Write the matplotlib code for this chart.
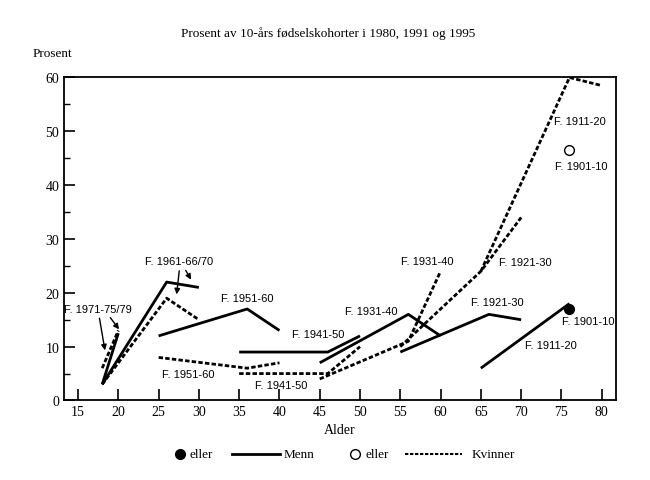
import matplotlib.pyplot as plt
from matplotlib.lines import Line2D

serif = ['Liberation Serif', 'DejaVu Serif']
narrow = ['Liberation Sans Narrow', 'Liberation Sans', 'DejaVu Sans']

# cohort series: (ages, percent) for men (solid) and women (dashed)
men = {
    'F. 1971-75/79': ([18, 20], [3, 12.5]),
    'F. 1961-66/70': ([18, 26, 30], [3, 22, 21]),
    'F. 1951-60': ([25, 36, 40], [12, 17, 13]),
    'F. 1941-50': ([35, 46, 50], [9, 9, 12]),
    'F. 1931-40': ([45, 56, 60], [7, 16, 12]),
    'F. 1921-30': ([55, 66, 70], [9, 16, 15]),
    'F. 1911-20': ([65, 76], [6, 18]),
}
women = {
    'F. 1971-75/79': ([18, 20], [6, 13]),
    'F. 1961-66/70': ([18, 26, 30], [3, 19, 15]),
    'F. 1951-60': ([25, 36, 40], [8, 6, 7]),
    'F. 1941-50': ([35, 46, 50], [5, 5, 10]),
    'F. 1931-40': ([45, 56, 60], [4, 11, 24]),
    'F. 1921-30': ([55, 65, 70], [10, 24, 34]),
    'F. 1911-20': ([65, 76, 80], [24, 60, 58.5]),
}
men_1901 = (76, 17)
women_1901 = (76, 46.5)

# label text and position (x, y) in data units
labels = [
    ('F. 1971-75/79', 17.5, 17.0),
    ('F. 1961-66/70', 27.5, 26.0),
    ('F. 1951-60', 36.0, 19.0),
    ('F. 1941-50', 44.8, 12.4),
    ('F. 1931-40', 51.4, 16.7),
    ('F. 1921-30', 67.0, 18.3),
    ('F. 1911-20', 73.7, 10.3),
    ('F. 1901-10', 78.3, 14.8),
    ('F. 1951-60', 28.7, 4.9),
    ('F. 1941-50', 40.2, 2.9),
    ('F. 1931-40', 58.3, 26.0),
    ('F. 1921-30', 70.5, 25.8),
    ('F. 1911-20', 77.3, 52.0),
    ('F. 1901-10', 77.4, 43.5),
]
arrows = [
    ((17.6, 15.8), (18.4, 8.8)),
    ((18.8, 15.8), (20.3, 12.8)),
    ((27.6, 24.6), (27.2, 19.2)),
    ((28.2, 24.6), (29.2, 22.0)),
]

fig = plt.figure(figsize=(6.5, 4.81), dpi=100)
ax = fig.add_axes([0.0985, 0.1653, 0.8495, 0.6715])

for name, (x, y) in men.items():
    ax.plot(x, y, color='black', lw=2, solid_capstyle='butt')
for name, (x, y) in women.items():
    ax.plot(x, y, color='black', lw=2, linestyle=(0, (1.6, 0.8)))
ax.plot(*men_1901, 'o', color='black', ms=7)
ax.plot(*women_1901, 'o', mfc='white', mec='black', ms=7)

for txt, x, y in labels:
    ax.text(x, y, txt, ha='center', va='center', fontsize=8, family=narrow)
for (x0, y0), (x1, y1) in arrows:
    ax.annotate('', xy=(x1, y1), xytext=(x0, y0),
                arrowprops=dict(arrowstyle='-|>', color='black', lw=1,
                                mutation_scale=8))

ax.set_xlim(13.26, 81.8)
ax.set_ylim(0, 60)
ax.set_xticks(range(15, 81, 5))
ax.set_yticks(range(0, 61, 10))
ax.set_yticks(range(5, 60, 10), minor=True)
ax.tick_params(direction='in', length=8, width=1.2, labelsize=10)
ax.tick_params(which='minor', direction='in', length=4, width=1)
for lbl in ax.get_xticklabels() + ax.get_yticklabels():
    lbl.set_family(serif)
for s in ax.spines.values():
    s.set_linewidth(1.3)

ax.set_xlabel('Alder', family=serif, fontsize=10, labelpad=3)
fig.text(0.05, 0.887, 'Prosent', family=serif, fontsize=9.5, va='center')
fig.text(0.505, 0.931, 'Prosent av 10-års fødselskohorter i 1980, 1991 og 1995',
         family=serif, fontsize=9.5, ha='center', va='center')

# legend row under the axes
ly = 1 - 455 / 481
fig.add_artist(Line2D([180 / 650], [ly], marker='o', color='black', ms=7,
                      transform=fig.transFigure))
fig.text(190 / 650, ly, 'eller', family=serif, fontsize=9.5, va='center')
fig.add_artist(Line2D([232 / 650, 280 / 650], [ly, ly], color='black', lw=2,
                      transform=fig.transFigure))
fig.text(284 / 650, ly, 'Menn', family=serif, fontsize=9.5, va='center')
fig.add_artist(Line2D([355 / 650], [ly], marker='o', mfc='white', mec='black',
                      ms=7, transform=fig.transFigure))
fig.text(365 / 650, ly, 'eller', family=serif, fontsize=9.5, va='center')
fig.add_artist(Line2D([405 / 650, 462 / 650], [ly, ly], color='black', lw=1.5,
                      linestyle=(0, (1.6, 0.8)), transform=fig.transFigure))
fig.text(472 / 650, ly, 'Kvinner', family=serif, fontsize=9.5, va='center')

fig.savefig('out.png', dpi=100)
